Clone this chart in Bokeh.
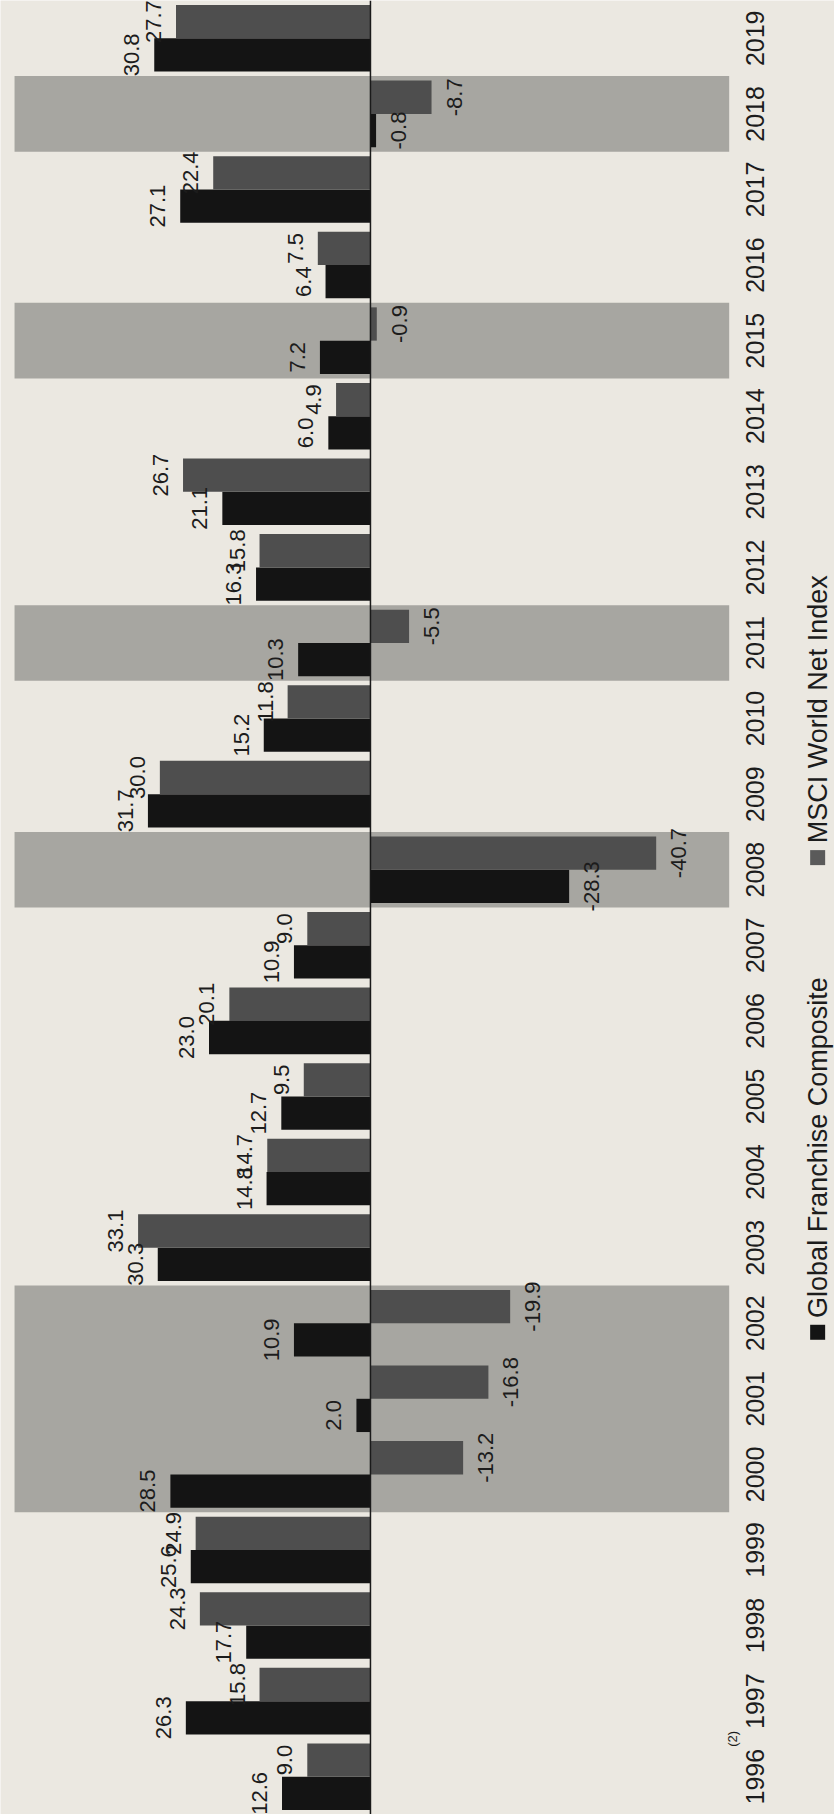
from bokeh.plotting import figure
from bokeh.models import Range1d, Span, ColumnDataSource
from bokeh.core.properties import value
from bokeh.embed import file_html
from bokeh.resources import INLINE
import numpy as np

# ---- data ----
years = list(range(1996, 2020))
gfc = [12.6, 26.3, 17.7, 25.6, 28.5, 2.0, 10.9, 30.3, 14.8, 12.7, 23.0, 10.9,
       -28.3, 31.7, 15.2, 10.3, 16.3, 21.1, 6.0, 7.2, 6.4, 27.1, -0.8, 30.8]
msci = [9.0, 15.8, 24.3, 24.9, -13.2, -16.8, -19.9, 33.1, 14.7, 9.5, 20.1, 9.0,
        -40.7, 30.0, 11.8, -5.5, 15.8, 26.7, 4.9, -0.9, 7.5, 22.4, -8.7, 27.7]
year_labels = [str(y) for y in years]
series_names = ["Global Franchise Composite", "MSCI World Net Index"]
footnote = "(2)"

# ---- style / layout ----
W, H = 834, 1814
PAPER = "#ebe8e1"
BAND = "#a7a6a1"
C_GFC = "#141414"
C_MSCI = "#4e4e4e"
TXT = "#1c1c1c"
FONT = value("Liberation Sans")
BAR_H = 0.44
LABEL_PAD = 3.2
BAND_POS, BAND_NEG = 50.7, -51.1
YEAR_X = -54.8
LEGEND_X = -63.7

p = figure(width=W, height=H, x_range=Range1d(52.7, -66.1),
           y_range=Range1d(years[0] - 0.5, years[-1] + 0.5),
           output_backend="svg", toolbar_location=None, min_border=0,
           x_axis_location=None, y_axis_location=None)
p.xgrid.visible = False
p.ygrid.visible = False
p.outline_line_color = None
p.background_fill_color = PAPER
p.border_fill_color = PAPER

yr = np.array(years, dtype=float)
g = np.array(gfc)
m = np.array(msci)

# shaded bands for years where the index fell (consecutive years merged)
band_years = [y for y, v in zip(years, msci) if v < 0]
groups = []
for y in band_years:
    if groups and y == groups[-1][1] + 1:
        groups[-1][1] = y
    else:
        groups.append([y, y])
p.quad(bottom=[a - 0.5 for a, b in groups], top=[b + 0.5 for a, b in groups],
       left=BAND_NEG, right=BAND_POS, fill_color=BAND, line_color=None)

# bars
p.hbar(y=yr - BAR_H / 2, height=BAR_H, left=0, right=g, fill_color=C_GFC, line_color=None)
p.hbar(y=yr + BAR_H / 2, height=BAR_H, left=0, right=m, fill_color=C_MSCI, line_color=None)

p.add_layout(Span(location=0, dimension="height", line_color="#1a1a1a", line_width=1.5))

# value labels
lab = ColumnDataSource(dict(
    x=list(g + np.sign(g) * LABEL_PAD) + list(m + np.sign(m) * LABEL_PAD),
    y=list(yr - BAR_H / 2) + list(yr + BAR_H / 2),
    t=[f"{v:.1f}" for v in gfc] + [f"{v:.1f}" for v in msci],
))
p.text(x="x", y="y", text="t", source=lab, angle=np.pi / 2,
       text_align="center", text_baseline="middle",
       text_font=FONT, text_font_size="22px", text_color=TXT)

# year labels
p.text(x=[YEAR_X] * len(years), y=years, text=year_labels, angle=np.pi / 2,
       text_align="center", text_baseline="middle",
       text_font=FONT, text_font_size="25px", text_color=TXT)
p.text(x=[-51.6], y=[years[0] + 0.5], text=[footnote], angle=np.pi / 2,
       text_align="center", text_baseline="middle",
       text_font=FONT, text_font_size="13px", text_color=TXT)

# legend
p.scatter(x=[LEGEND_X, LEGEND_X], y=[2001.88, 2008.16], marker="square", size=15,
          fill_color=[C_GFC, "#5a5a5a"], line_color=None)
p.text(x=[LEGEND_X, LEGEND_X], y=[2002.07, 2008.35], text=series_names, angle=np.pi / 2,
       text_align="left", text_baseline="middle",
       text_font=FONT, text_font_size="27px", text_color=TXT)

open("out.html", "w").write(file_html(p, INLINE))
